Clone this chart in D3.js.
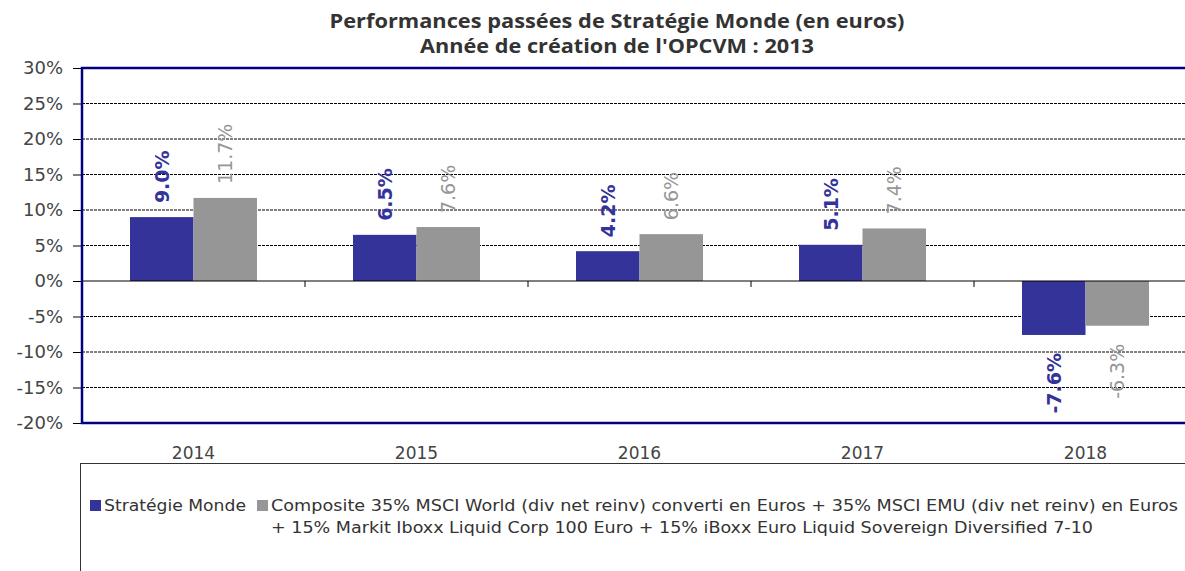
<!DOCTYPE html>
<html>
<head>
<meta charset="utf-8">
<script src="https://cdn.jsdelivr.net/npm/d3@7"></script>
<style>
  body { margin: 0; background: #fff; }
  svg { display: block; }
</style>
</head>
<body>
<svg width="1185" height="571"></svg>
<script>
const svg = d3.select('svg');

const years = ['2014', '2015', '2016', '2017', '2018'];
const fundValues = [9.0, 6.5, 4.2, 5.1, -7.6];
const benchValues = [11.7, 7.6, 6.6, 7.4, -6.3];
const yTicks = [30, 25, 20, 15, 10, 5, 0, -5, -10, -15, -20];
const titleLines = ['Performances passées de Stratégie Monde (en euros)', "Année de création de l'OPCVM : 2013"];
const legendFund = 'Stratégie Monde';
const legendBench = ['Composite 35% MSCI World (div net reinv) converti en Euros + 35% MSCI EMU (div net reinv) en Euros',
  '+ 15% Markit Iboxx Liquid Corp 100 Euro + 15% iBoxx Euro Liquid Sovereign Diversified 7-10'];

const BLUE = '#333399';
const GREY = '#969696';
const NAVY = '#000080';
const LEFT = 82, RIGHT = 1197, TOP = 68, BOTTOM = 423;
const FONT = 'Verdana, "DejaVu Sans", sans-serif';

const xScale = d3.scaleBand().domain(years).range([LEFT, RIGHT]);
const yScale = d3.scaleLinear().domain([-20, 30]).range([BOTTOM, TOP]);
const inner = d3.scaleBand().domain(['fund', 'bench']).range([0, 127]);
const groupOffset = (xScale.bandwidth() - 127) / 2;
const pct = v => d3.format('.1f')(v).replace('\u2212', '-') + '%';

// Title
svg.append('g').selectAll('text')
  .data(titleLines)
  .join('text')
  .attr('x', 617)
  .attr('y', (d, i) => 28 + i * 25)
  .attr('text-anchor', 'middle')
  .attr('textLength', (d, i) => i === 0 ? 575 : 394)
  .attr('lengthAdjust', 'spacingAndGlyphs')
  .style('font-family', '"Open Sans", "DejaVu Sans", sans-serif')
  .style('font-weight', 700)
  .style('font-size', '19px')
  .style('fill', '#333')
  .text(d => d);

// Gridlines
svg.append('g').selectAll('line')
  .data(yTicks.filter(t => t !== 30 && t !== 0 && t !== -20))
  .join('line')
  .attr('x1', LEFT).attr('x2', RIGHT)
  .attr('y1', d => yScale(d)).attr('y2', d => yScale(d))
  .style('stroke', '#000')
  .style('stroke-width', 1)
  .style('stroke-dasharray', '3,1');

// Y axis
const yAxis = d3.axisLeft(yScale).tickValues(yTicks).tickSize(9).tickPadding(10).tickFormat(d => d + '%');
const yAxisGroup = svg.append('g').attr('transform', `translate(${LEFT},0)`);
yAxis(yAxisGroup);
yAxisGroup.select('.domain').remove();
yAxisGroup.selectAll('line').style('stroke', '#000');
yAxisGroup.selectAll('text')
  .style('font-family', FONT)
  .style('font-size', '18px')
  .style('fill', '#444');

// Bars
const bars = svg.append('g');
const series = [
  { key: 'fund', values: fundValues, color: BLUE },
  { key: 'bench', values: benchValues, color: GREY },
];
series.forEach(s => {
  bars.append('g').selectAll('rect')
    .data(s.values.map((v, i) => ({ year: years[i], v })))
    .join('rect')
    .attr('x', d => xScale(d.year) + groupOffset + inner(s.key))
    .attr('width', inner.bandwidth())
    .attr('y', d => yScale(Math.max(0, d.v)))
    .attr('height', d => Math.abs(yScale(d.v) - yScale(0)))
    .style('fill', s.color);
});

// Zero line with category ticks
svg.append('line')
  .attr('x1', LEFT).attr('x2', RIGHT)
  .attr('y1', yScale(0)).attr('y2', yScale(0))
  .style('stroke', '#000').style('stroke-width', 1);
svg.append('g').selectAll('line')
  .data(years.slice(1))
  .join('line')
  .attr('x1', d => xScale(d)).attr('x2', d => xScale(d))
  .attr('y1', yScale(0)).attr('y2', yScale(0) + 6)
  .style('stroke', '#000');

// Plot frame
svg.append('path')
  .attr('d', `M${RIGHT},${yScale(30)}H${LEFT}V${yScale(-20)}H${RIGHT}`)
  .style('fill', 'none')
  .style('stroke', NAVY)
  .style('stroke-width', 2.5);

// Value labels
series.forEach(s => {
  svg.append('g').selectAll('text')
    .data(s.values.map((v, i) => ({ year: years[i], v })))
    .join('text')
    .attr('transform', d => {
      const x = xScale(d.year) + groupOffset + inner(s.key) + inner.bandwidth() / 2 + 7;
      const y = d.v >= 0 ? yScale(d.v) - 14 : yScale(d.v) + 18;
      return `translate(${x},${y}) rotate(-90)`;
    })
    .attr('text-anchor', d => d.v >= 0 ? 'start' : 'end')
    .style('font-family', FONT)
    .style('font-size', '19px')
    .style('font-weight', s.key === 'fund' ? 700 : 400)
    .style('fill', s.color)
    .text(d => pct(d.v));
});

// X labels
svg.append('g').selectAll('text')
  .data(years)
  .join('text')
  .attr('x', d => xScale(d) + xScale.bandwidth() / 2)
  .attr('y', 459)
  .attr('text-anchor', 'middle')
  .style('font-family', FONT)
  .style('font-size', '17px')
  .style('fill', '#444')
  .text(d => d);

// Legend
svg.append('rect')
  .attr('x', 80.5).attr('y', 463.5)
  .attr('width', 1120).attr('height', 120)
  .style('fill', '#fff')
  .style('stroke', '#333')
  .style('stroke-width', 1);

const legend = svg.append('g').style('font-family', '"DejaVu Sans Condensed", "DejaVu Sans", sans-serif').style('font-size', '15px').style('fill', '#333');
legend.append('rect').attr('x', 90).attr('y', 500).attr('width', 11).attr('height', 11).style('fill', BLUE);
legend.append('text').attr('x', 104).attr('y', 511).attr('textLength', 142).attr('lengthAdjust', 'spacingAndGlyphs').text(legendFund);
legend.append('rect').attr('x', 257).attr('y', 500).attr('width', 11).attr('height', 11).style('fill', GREY);
legend.append('text').attr('x', 271).attr('y', 511).attr('textLength', 907).attr('lengthAdjust', 'spacingAndGlyphs').text(legendBench[0]);
legend.append('text').attr('x', 271).attr('y', 533).attr('textLength', 822).attr('lengthAdjust', 'spacingAndGlyphs').text(legendBench[1]);
</script>
</body>
</html>
